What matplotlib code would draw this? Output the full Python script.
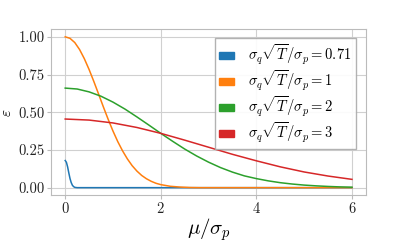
import numpy as np
import matplotlib
matplotlib.use("Agg")
import matplotlib.pyplot as plt
from matplotlib.patches import Patch

plt.rcParams['font.family'] = 'serif'
plt.rcParams['font.serif'] = ['cmr10']
plt.rcParams['mathtext.fontset'] = 'cm'
plt.rcParams['axes.formatter.use_mathtext'] = True

# values, one curve per sigma_q*sqrt(T)/sigma_p
x_071 = [0, 0.025, 0.05, 0.075, 0.1, 0.125, 0.15, 0.175, 0.2, 0.25, 1, 2, 3, 4, 5, 6]
eps_071 = [0.180, 0.168, 0.138, 0.098, 0.061, 0.034, 0.016, 0.007, 0.002, 0.0, 0, 0, 0, 0, 0, 0]

x_1 = [0, 0.1, 0.2, 0.3, 0.4, 0.5, 0.6, 0.7, 0.8, 0.9, 1.0, 1.1, 1.2, 1.3, 1.4, 1.5,
       1.6, 1.7, 1.8, 1.9, 2.0, 2.2, 2.4, 2.6, 2.8, 3, 4, 5, 6]
eps_1 = [1.000, 0.990, 0.962, 0.916, 0.855, 0.783, 0.703, 0.619, 0.534, 0.452, 0.375,
         0.305, 0.244, 0.191, 0.146, 0.110, 0.081, 0.059, 0.042, 0.029, 0.020, 0.009,
         0.004, 0.001, 0.0, 0, 0, 0, 0]

x_2 = [0, 0.25, 0.5, 0.75, 1.0, 1.25, 1.5, 1.75, 2.0, 2.25, 2.5, 2.75, 3.0, 3.25, 3.5,
       3.75, 4.0, 4.25, 4.5, 4.75, 5.0, 5.25, 5.5, 5.75, 6.0]
eps_2 = [0.660, 0.654, 0.635, 0.606, 0.567, 0.521, 0.469, 0.415, 0.360, 0.307, 0.256,
         0.210, 0.169, 0.133, 0.103, 0.078, 0.060, 0.045, 0.033, 0.024, 0.017, 0.012,
         0.008, 0.005, 0.003]

x_3 = [0, 0.5, 1.0, 1.5, 2.0, 2.5, 3.0, 3.5, 4.0, 4.5, 5.0, 5.5, 6.0]
eps_3 = [0.455, 0.448, 0.429, 0.399, 0.360, 0.315, 0.268, 0.221, 0.178, 0.138, 0.104, 0.077, 0.055]

labels = ['0.71', '1', '2', '3']
colors = ['#1f77b4', '#ff7f0e', '#2ca02c', '#d62728']

fig = plt.figure(figsize=(4.07, 2.44), dpi=100)
ax = fig.add_axes([0.125, 0.2, 0.775, 0.68])

for xs, ys, c in zip([x_071, x_1, x_2, x_3], [eps_071, eps_1, eps_2, eps_3], colors):
    ax.plot(xs, ys, color=c, lw=1.1)

ax.set_xlim(-0.3, 6.3)
ax.set_ylim(-0.05, 1.05)
ax.set_xticks([0, 2, 4, 6])
ax.set_yticks([0, 0.25, 0.5, 0.75, 1.0])
ax.set_yticklabels(['0.00', '0.25', '0.50', '0.75', '1.00'])
ax.grid(True, color='#d0d0d0', lw=0.8)
ax.set_axisbelow(True)
for s in ax.spines.values():
    s.set_color('#bbbbbb')
ax.tick_params(colors='#bbbbbb', labelcolor='#222222', labelsize=10.5, length=3, pad=1.5)

ax.set_xlabel(r'$\mu/\sigma_p$', fontsize=15, labelpad=0)
ax.set_ylabel(r'$\varepsilon$', fontsize=11, labelpad=3)

handles = [Patch(color=c, label=r'$\sigma_q\sqrt{T}/\sigma_p = %s$' % l) for c, l in zip(colors, labels)]
leg = ax.legend(handles=handles, loc='upper right', fontsize=10.5, fancybox=False,
                handlelength=1.0, handleheight=0.35, framealpha=0.9, edgecolor='#aaaaaa',
                borderpad=0.3, labelspacing=0.12, handletextpad=1.0,
                bbox_to_anchor=(0.99, 0.99))

fig.savefig('out.png', dpi=100)
